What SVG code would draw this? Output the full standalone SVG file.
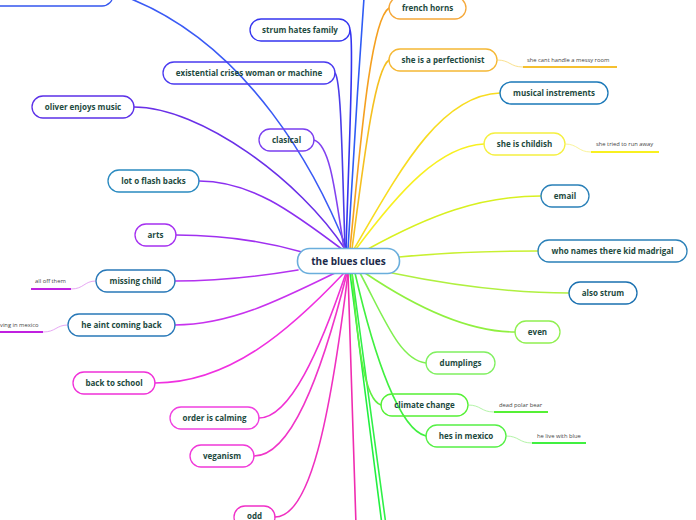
<svg xmlns="http://www.w3.org/2000/svg" width="696" height="520" viewBox="0 0 696 520">
<style>
.n rect{fill:none;stroke-width:1.3}
.n text{font-family:"Open Sans","Noto Sans",sans-serif;font-weight:700;font-size:8px;fill:#1d4a3e;text-anchor:middle}
.c path{fill:none;stroke-width:1.6;stroke-linecap:round}
.s text{font-family:"Open Sans","Noto Sans",sans-serif;font-size:5.8px;fill:#444}
.s path{fill:none;stroke-width:0.8}
.s line{stroke-width:2}
</style>
<rect width="696" height="520" fill="#fff"/>
<g class="c" id="connectors">
<path d="M347 249 C320 180 250 40 118 -6" stroke="#3a5af5"/>
<path d="M364 -2 C358 80 352 180 348 249" stroke="#2f5cf5"/>
<path d="M346 249 C349 150 354 40 350 30" stroke="#3434f0"/>
<path d="M345 249 C342 150 341 80 335 73" stroke="#4a3ce8"/>
<path d="M345 249 C300 180 200 107 134 107" stroke="#6a30e8"/>
<path d="M344 249 C335 190 330 145 314 140" stroke="#8242f0"/>
<path d="M343 250 C290 210 250 181 199 181" stroke="#8c30f0"/>
<path d="M302 252 C260 240 220 235 176 235" stroke="#a030f0"/>
<path d="M298 270 C250 278 210 281 175 281" stroke="#b432f0"/>
<path d="M335 273 C280 300 230 325 175 325" stroke="#c832ee"/>
<path d="M344 273 C290 330 230 383 155 383" stroke="#f030e0"/>
<path d="M346 273 C320 350 290 418 259 418" stroke="#f030d4"/>
<path d="M347 273 C320 380 290 456 254 456" stroke="#f035c8"/>
<path d="M348 273 C330 420 310 517 275 517" stroke="#f030c0"/>
<path d="M348 273 L356 525" stroke="#f02cb0"/>
<path d="M350 273 L382 525" stroke="#22f040"/>
<path d="M352 273 L386 525" stroke="#30f048"/>
<path d="M350 249 C360 150 370 20 389 8" stroke="#f5a020"/>
<path d="M352 249 C365 150 375 70 389 60" stroke="#f5c020"/>
<path d="M354 249 C400 170 440 95 500 93" stroke="#f8dc20"/>
<path d="M356 249 C400 190 440 146 484 144" stroke="#f8f020"/>
<path d="M368 249 C430 215 480 196 541 196" stroke="#d8f020"/>
<path d="M399 257 C450 252 490 251 538 251" stroke="#c8f030"/>
<path d="M392 273 C450 285 510 293 569 293" stroke="#b0f040"/>
<path d="M365 273 C420 310 470 332 515 332" stroke="#90f040"/>
<path d="M360 273 C385 320 400 360 426 363" stroke="#80f050"/>
<path d="M352 273 C358 350 365 400 381 405" stroke="#60f040"/>
<path d="M355 273 C375 360 400 430 426 436" stroke="#40f040"/>
</g>
<g class="s" id="sub-topics">
<path d="M497 60 C510 60 510 67 523 67" stroke="#f8d870"/>
<line x1="523" y1="67" x2="617" y2="67" stroke="#f5c030"/>
<text x="527" y="62">she cant handle a messy room</text>
<path d="M565 144 C578 144 578 152 591 152" stroke="#f8f080"/>
<line x1="591" y1="152" x2="659" y2="152" stroke="#f8f020"/>
<text x="596" y="146">she tried to run away</text>
<path d="M96 281 C84 281 84 289 71 289" stroke="#e090f0"/>
<line x1="31" y1="289" x2="71" y2="289" stroke="#c020e0"/>
<text x="35" y="283">all off them</text>
<path d="M68 325 C56 325 56 332 43 332" stroke="#e090f0"/>
<line x1="-2" y1="332" x2="43" y2="332" stroke="#c020e0"/>
<text x="0" y="327">ving in mexico</text>
<path d="M468 405 C481 405 481 412 494 412" stroke="#a0f090"/>
<line x1="494" y1="412" x2="548" y2="412" stroke="#55f035"/>
<text x="499" y="407">dead polar bear</text>
<path d="M506 436 C519 436 519 443 532 443" stroke="#a0f090"/>
<line x1="532" y1="443" x2="586" y2="443" stroke="#40f040"/>
<text x="537" y="438">he live with blue</text>
</g>
<g class="n" id="n-top"><rect x="-30" y="-16" width="143" height="22" rx="11" stroke="#3355ee"/></g>
<g class="n" id="n-strum"><rect x="250" y="19" width="100" height="22" rx="11" stroke="#3535f0"/><text x="300" y="33">strum hates family</text></g>
<g class="n" id="n-existential"><rect x="163" y="62" width="172" height="22" rx="11" stroke="#4a3af0"/><text x="249" y="76">existential crises woman or machine</text></g>
<g class="n" id="n-oliver"><rect x="32" y="96" width="102" height="22" rx="11" stroke="#5b30e8"/><text x="83" y="110">oliver enjoys music</text></g>
<g class="n" id="n-clasical"><rect x="259" y="129" width="55" height="22" rx="11" stroke="#7a3ef0"/><text x="286.5" y="143">clasical</text></g>
<g class="n" id="n-flash"><rect x="108" y="170" width="91" height="22" rx="11" stroke="#2a8ac0"/><text x="153.5" y="184">lot o flash backs</text></g>
<g class="n" id="n-arts"><rect x="135" y="224" width="41" height="22" rx="11" stroke="#a530f0"/><text x="155.5" y="238">arts</text></g>
<g class="n" id="n-missing"><rect x="96" y="270" width="79" height="22" rx="11" stroke="#2878b8"/><text x="135.5" y="284">missing child</text></g>
<g class="n" id="n-aint"><rect x="68" y="314" width="107" height="22" rx="11" stroke="#2878b8"/><text x="121.5" y="328">he aint coming back</text></g>
<g class="n" id="n-school"><rect x="73" y="372" width="82" height="22" rx="11" stroke="#f030d8"/><text x="114" y="386">back to school</text></g>
<g class="n" id="n-order"><rect x="170" y="407" width="89" height="22" rx="11" stroke="#f040e0"/><text x="214.5" y="421">order is calming</text></g>
<g class="n" id="n-veganism"><rect x="190" y="445" width="64" height="22" rx="11" stroke="#f038d8"/><text x="222" y="459">veganism</text></g>
<g class="n" id="n-odd"><rect x="234" y="506" width="41" height="22" rx="11" stroke="#f030c8"/><text x="254.5" y="519">odd</text></g>
<g class="n" id="n-french"><rect x="389" y="-3" width="77" height="22" rx="11" stroke="#f5a83a"/><text x="427.5" y="11">french horns</text></g>
<g class="n" id="n-perfectionist"><rect x="389" y="49" width="108" height="22" rx="11" stroke="#f5b835"/><text x="443" y="63">she is a perfectionist</text></g>
<g class="n" id="n-musical"><rect x="500" y="82" width="108" height="22" rx="11" stroke="#1a78b8"/><text x="554" y="96">musical instrements</text></g>
<g class="n" id="n-childish"><rect x="484" y="133" width="81" height="22" rx="11" stroke="#f5f040"/><text x="524.5" y="147">she is childish</text></g>
<g class="n" id="n-email"><rect x="541" y="185" width="48" height="22" rx="11" stroke="#2a80b8"/><text x="565" y="199">email</text></g>
<g class="n" id="n-madrigal"><rect x="538" y="240" width="149" height="22" rx="11" stroke="#2a80b8"/><text x="612.5" y="254">who names there kid madrigal</text></g>
<g class="n" id="n-also"><rect x="569" y="282" width="68" height="22" rx="11" stroke="#1a70b0"/><text x="603" y="296">also strum</text></g>
<g class="n" id="n-even"><rect x="515" y="321" width="45" height="22" rx="11" stroke="#90f050"/><text x="537.5" y="335">even</text></g>
<g class="n" id="n-dumplings"><rect x="426" y="352" width="69" height="22" rx="11" stroke="#80f060"/><text x="460.5" y="366">dumplings</text></g>
<g class="n" id="n-climate"><rect x="381" y="394" width="87" height="22" rx="11" stroke="#55f035"/><text x="424.5" y="408">climate change</text></g>
<g class="n" id="n-mexico"><rect x="426" y="425" width="80" height="22" rx="11" stroke="#55f045"/><text x="466" y="439">hes in mexico</text></g>
<g id="n-center"><rect x="297.5" y="248.5" width="102" height="25" rx="12" fill="#fff" stroke="#6aaedc" stroke-width="1.6"/><text x="348.5" y="265" font-family="'Open Sans','Noto Sans',sans-serif" font-weight="700" font-size="10px" fill="#1b2a4a" text-anchor="middle">the blues clues</text></g>
</svg>
